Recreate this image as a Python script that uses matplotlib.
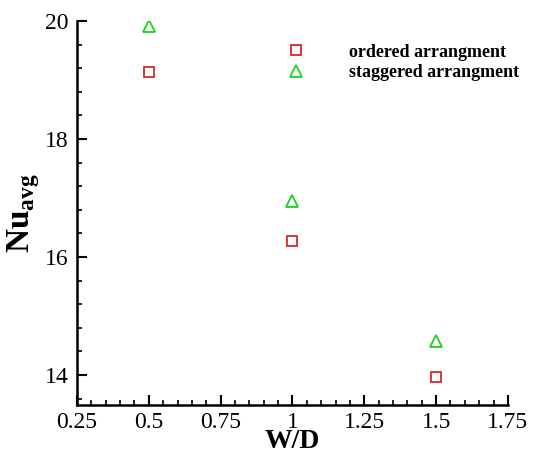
import matplotlib
matplotlib.use("Agg")
import matplotlib.pyplot as plt
from matplotlib.ticker import MultipleLocator, FixedFormatter, FixedLocator

plt.rcParams['font.family'] = ['Liberation Serif', 'DejaVu Serif']
plt.rcParams['mathtext.fontset'] = 'custom'
plt.rcParams['mathtext.rm'] = 'Liberation Serif'
plt.rcParams['mathtext.bf'] = 'Liberation Serif:bold'

wd = [0.5, 1.0, 1.5]
nu_ordered = [19.13, 16.27, 13.97]
nu_staggered = [19.92, 16.95, 14.58]

xticks = [0.25, 0.5, 0.75, 1.0, 1.25, 1.5, 1.75]
xtick_labels = ['0.25', '0.5', '0.75', '1', '1.25', '1.5', '1.75']
yticks = [14, 16, 18, 20]

fig = plt.figure(figsize=(5.33, 4.5), dpi=100)
ax = fig.add_axes([0.1445, 0.1, 0.8085, 0.853])

ax.plot(wd, nu_ordered, linestyle='none', marker='s', markersize=7,
        markerfacecolor='none', markeredgecolor='#d42a2a', markeredgewidth=1.3,
        label='ordered arrangment')
ax.plot(wd, nu_staggered, linestyle='none', marker='^', markersize=8,
        markerfacecolor='none', markeredgecolor='#19d219', markeredgewidth=1.3,
        label='staggered arrangment')

ax.set_xlim(0.25, 1.75)
ax.set_ylim(13.49, 20)
ax.xaxis.set_major_locator(FixedLocator(xticks))
ax.xaxis.set_major_formatter(FixedFormatter(xtick_labels))
ax.xaxis.set_minor_locator(MultipleLocator(0.05))
ax.yaxis.set_major_locator(FixedLocator(yticks))
ax.yaxis.set_minor_locator(MultipleLocator(0.4))

for s in ['top', 'right']:
    ax.spines[s].set_visible(False)
for s in ['left', 'bottom']:
    ax.spines[s].set_linewidth(1.8)

ax.tick_params(which='major', direction='in', length=7, width=1.5, labelsize=17)
ax.tick_params(axis='x', which='major', pad=5)
ax.tick_params(axis='y', which='major', pad=6)
ax.tick_params(which='minor', direction='in', length=3.8, width=1.2)

# reference crops this label at the bottom edge; keep it just inside
ax.set_xlabel('W/D', fontsize=20, fontweight='bold')
ax.xaxis.set_label_coords(0.5, -0.063)
ax.set_ylabel(r'$\mathbf{Nu}_{\mathbf{avg}}$', fontsize=24)
ax.yaxis.set_label_coords(-0.082, 0.5)

ax.legend(loc='upper left', bbox_to_anchor=(0.45, 0.96), frameon=False,
          prop={'weight': 'bold', 'size': 13}, handletextpad=1.9,
          labelspacing=0.2, borderaxespad=0)

fig.savefig('out.png', dpi=100)
